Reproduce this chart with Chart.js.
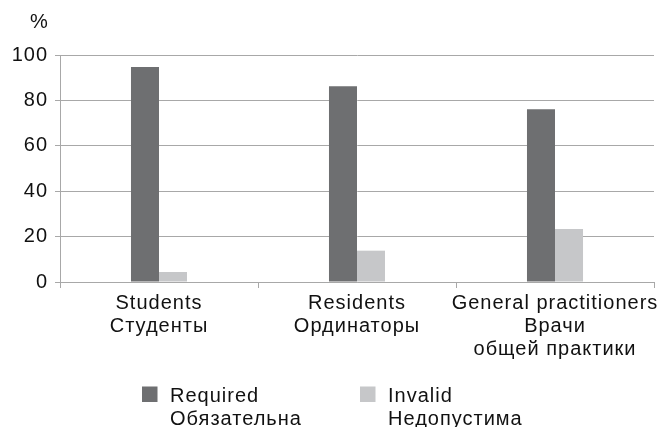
<!DOCTYPE html>
<html>
<head>
<meta charset="utf-8">
<script src="https://cdn.jsdelivr.net/npm/chart.js@4/dist/chart.umd.min.js"></script>
<style>
html,body{margin:0;padding:0;background:#fff;}
#wrap{width:672px;height:427px;position:relative;}
</style>
</head>
<body>
<div id="wrap"><canvas id="c" width="672" height="427"></canvas></div>
<script>
const categories = [["Students", "Студенты"], ["Residents", "Ординаторы"], ["General practitioners", "Врачи", "общей практики"]];
const requiredValues = [94.7, 86.2, 76.1];
const invalidValues = [4.4, 13.8, 23.3];
const seriesLabels = [["Required", "Обязательна"], ["Invalid", "Недопустима"]];
const yTicks = [0, 20, 40, 60, 80, 100];
const unitLabel = "%";

const FONT = '"Liberation Sans", Arial, Helvetica, sans-serif';
const LS = '1px';
const FS = 20;
const gridColor = '#a8a8a8';

const spacingPlugin = {
  id: 'spacing',
  beforeUpdate(chart){ chart.ctx.letterSpacing = LS; },
  beforeLayout(chart){ chart.ctx.letterSpacing = LS; },
  beforeDraw(chart){ chart.ctx.letterSpacing = LS; }
};

const extrasPlugin = {
  id: 'extras',
  afterDraw(chart){
    const ctx = chart.ctx;
    ctx.save();
    ctx.letterSpacing = LS;
    ctx.font = FS + 'px ' + FONT;
    ctx.fillStyle = '#111';
    ctx.textAlign = 'left';
    ctx.textBaseline = 'alphabetic';
    ctx.fillText(unitLabel, 30, 28);
    const xs = [142, 360];
    chart.data.datasets.forEach((ds, i) => {
      const x = xs[i];
      ctx.fillStyle = ds.backgroundColor;
      ctx.fillRect(x, 386.5, 15.5, 15.5);
      ctx.fillStyle = '#111';
      seriesLabels[i].forEach((t, j) => {
        ctx.fillText(t, x + 28, 401.5 + j * 23.5);
      });
    });
    ctx.restore();
  }
};

new Chart(document.getElementById('c'), {
  type: 'bar',
  data: {
    labels: categories,
    datasets: [
      { label: seriesLabels[0].join(' '), data: requiredValues, backgroundColor: '#6e6f71', categoryPercentage: 0.283, barPercentage: 1 },
      { label: seriesLabels[1].join(' '), data: invalidValues, backgroundColor: '#c6c7c9', categoryPercentage: 0.283, barPercentage: 1 }
    ]
  },
  options: {
    responsive: false,
    animation: false,
    devicePixelRatio: 1,
    layout: { padding: { top: 55, right: 18, left: 0, bottom: 0 } },
    plugins: { legend: { display: false }, tooltip: { enabled: false } },
    scales: {
      x: {
        grid: { drawOnChartArea: false, drawTicks: true, tickLength: 6, color: gridColor, offset: true },
        border: { display: true, color: gridColor, width: 1 },
        ticks: { color: '#111', font: { family: FONT, size: FS, lineHeight: '23px' }, padding: 4, maxRotation: 0, autoSkip: false },
        afterFit(scale){ scale.height = 145; }
      },
      y: {
        min: 0, max: 100,
        afterBuildTicks(scale){ scale.ticks = yTicks.map(v => ({ value: v })); },
        grid: { color: gridColor, tickLength: 5, drawTicks: true },
        border: { display: true, color: gridColor, width: 1 },
        ticks: { color: '#111', font: { family: FONT, size: FS }, padding: 7 },
        afterFit(scale){ scale.width = 60; }
      }
    }
  },
  plugins: [spacingPlugin, extrasPlugin]
});
</script>
</body>
</html>
